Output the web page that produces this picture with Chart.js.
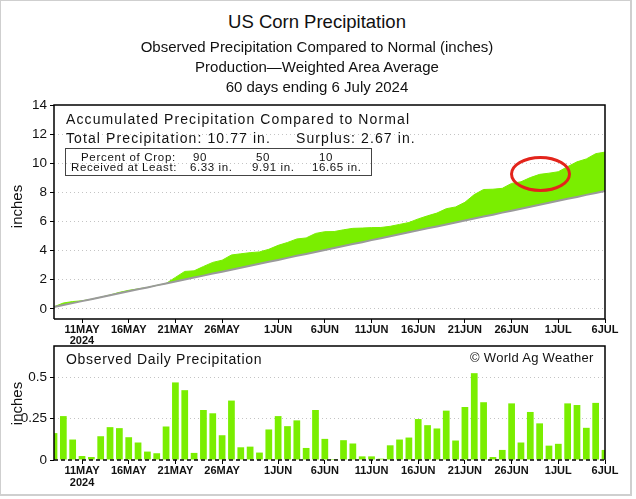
<!DOCTYPE html>
<html>
<head>
<meta charset="utf-8">
<script src="https://cdn.jsdelivr.net/npm/chart.js"></script>
<style>
  html, body { margin: 0; padding: 0; background: #fff; }
  #page {
    position: relative; width: 632px; height: 496px;
    border: 2px solid #cfcfcf; box-sizing: border-box; border-left-width: 1px; border-top-width: 1px;
    font-family: 'Liberation Sans', Arial, sans-serif; color: #111; overflow: hidden;
  }
  .t { position: absolute; white-space: pre; line-height: 1; z-index: 3; }
  .ctr { left: 0; width: 632px; text-align: center; }
  canvas { position: absolute; left: 0; }
  #ell {
    position: absolute; left: 509px; top: 155px; width: 61px; height: 36px;
    border: 3px solid #e3241b; border-radius: 50%; box-sizing: border-box; z-index: 3;
  }
  .ylab { position: absolute; font-size: 15px; transform: rotate(-90deg); transform-origin: center; z-index: 3; }
</style>
</head>
<body>
<div id="page">
  <div class="t ctr" style="top:12px;font-size:18.5px;">US Corn Precipitation</div>
  <div class="t ctr" style="top:38px;font-size:15px;">Observed Precipitation Compared to Normal (inches)</div>
  <div class="t ctr" style="top:58px;font-size:15px;">Production&#8212;Weighted Area Average</div>
  <div class="t ctr" style="top:78px;font-size:15px;">60 days ending 6 July 2024</div>

  <canvas id="dailyChart" width="632" height="156" style="top:334px;"></canvas>
  <canvas id="accChart" width="632" height="259" style="top:93px;z-index:2;"></canvas>

  <div class="ylab" style="left:-10px;top:197px;width:50px;text-align:center;">inches</div>
  <div class="ylab" style="left:-10px;top:394px;width:50px;text-align:center;">inches</div>

  <div class="t" style="left:65px;top:111px;font-size:14px;letter-spacing:1.1px;">Accumulated Precipitation Compared to Normal</div>
  <div class="t" style="left:65px;top:130px;font-size:14px;letter-spacing:1.1px;">Total Precipitation: 10.77 in.     Surplus: 2.67 in.</div>
  <div style="position:absolute;left:64px;top:147px;width:307px;height:28px;border:1.5px solid #444;box-sizing:border-box;z-index:3;"></div>
  <div class="t" style="left:80px;top:151px;font-size:11.5px;letter-spacing:0.7px;">Percent of Crop:</div>
  <div class="t" style="left:192px;top:151px;font-size:11.5px;letter-spacing:0.7px;">90</div>
  <div class="t" style="left:255px;top:151px;font-size:11.5px;letter-spacing:0.7px;">50</div>
  <div class="t" style="left:318px;top:151px;font-size:11.5px;letter-spacing:0.7px;">10</div>
  <div class="t" style="left:70px;top:161px;font-size:11.5px;letter-spacing:0.6px;">Received at Least:</div>
  <div class="t" style="left:189px;top:161px;font-size:11.5px;letter-spacing:0.6px;">6.33 in.</div>
  <div class="t" style="left:251px;top:161px;font-size:11.5px;letter-spacing:0.6px;">9.91 in.</div>
  <div class="t" style="left:311px;top:161px;font-size:11.5px;letter-spacing:0.6px;">16.65 in.</div>

  <!-- year under the first date tick of the top chart -->
  <div class="t" style="left:66px;top:334px;width:30px;text-align:center;font-size:11px;font-weight:bold;">2024</div>

  <div class="t" style="left:65px;top:351px;font-size:14px;letter-spacing:0.7px;">Observed Daily Precipitation</div>
  <div class="t" style="left:469px;top:350px;font-size:13px;letter-spacing:0.3px;">&#169; World Ag Weather</div>

  <div id="ell"></div>
</div>

<script>
// ---------------- data ----------------
// 60 days, 8 May 2024 .. 6 Jul 2024
var monthSpans = [['MAY', 8, 31], ['JUN', 1, 30], ['JUL', 1, 6]];
var days = [];
monthSpans.forEach(function (m) {
    for (var d = m[1]; d <= m[2]; d++) days.push(d + m[0]);
});

var tickDays = ['11MAY', '16MAY', '21MAY', '26MAY', '1JUN', '6JUN', '11JUN',
                '16JUN', '21JUN', '26JUN', '1JUL', '6JUL'];

// accumulated observed precipitation (inches)
var accumObserved = [
    0.14, 0.40, 0.50, 0.55, 0.66, 0.80, 0.95, 1.13, 1.27, 1.37,
    1.47, 1.61, 1.74, 2.16, 2.57, 2.61, 2.91, 3.19, 3.34, 3.70,
    3.78, 3.86, 3.91, 4.09, 4.36, 4.56, 4.80, 4.87, 5.18, 5.30,
    5.31, 5.43, 5.53, 5.55, 5.58, 5.59, 5.67, 5.80, 5.93, 6.18,
    6.39, 6.58, 6.88, 7.00, 7.32, 7.85, 8.20, 8.22, 8.28, 8.62,
    8.73, 9.02, 9.24, 9.32, 9.42, 9.77, 10.10, 10.30, 10.66, 10.77
];

// accumulated normal precipitation (inches)
var accumNormal = [
    0.12, 0.26, 0.39, 0.53, 0.66, 0.80, 0.93, 1.07, 1.20, 1.34,
    1.47, 1.61, 1.74, 1.88, 2.01, 2.15, 2.28, 2.42, 2.55, 2.69,
    2.82, 2.96, 3.09, 3.23, 3.36, 3.50, 3.64, 3.77, 3.91, 4.04,
    4.18, 4.31, 4.45, 4.58, 4.72, 4.85, 4.99, 5.12, 5.26, 5.39,
    5.53, 5.66, 5.80, 5.93, 6.07, 6.20, 6.34, 6.47, 6.61, 6.74,
    6.88, 7.02, 7.15, 7.29, 7.42, 7.56, 7.69, 7.83, 7.96, 8.10
];

// observed daily precipitation (inches)
var dailyObserved = [
    0.163, 0.266, 0.124, 0.024, 0.018, 0.144, 0.199, 0.193, 0.138, 0.106,
    0.051, 0.041, 0.203, 0.470, 0.423, 0.043, 0.303, 0.283, 0.150, 0.360,
    0.077, 0.081, 0.045, 0.185, 0.266, 0.205, 0.240, 0.073, 0.303, 0.128,
    0.006, 0.120, 0.100, 0.022, 0.022, 0.008, 0.089, 0.124, 0.136, 0.248,
    0.211, 0.191, 0.299, 0.118, 0.321, 0.526, 0.350, 0.018, 0.061, 0.343,
    0.106, 0.291, 0.222, 0.087, 0.098, 0.343, 0.333, 0.195, 0.346, 0.061
];

var accTicks = [0, 2, 4, 6, 8, 10, 12, 14];
var dailyTicks = [0, 0.25, 0.5];

// ---------------- styles ----------------
var GREEN = '#7AEE00';
var FONT = 'Liberation Sans';

function isTickDay(i) { return tickDays.indexOf(days[i]) >= 0; }

// draws black frame round the plot area
var framePlugin = {
    id: 'frame',
    afterDraw: function (chart, args, opts) {
        var a = chart.chartArea, c = chart.ctx;
        c.save();
        c.strokeStyle = '#000';
        c.lineWidth = 1.5;
        c.beginPath();
        c.moveTo(a.left, a.bottom);
        c.lineTo(a.left, a.top);
        c.lineTo(a.right, a.top);
        c.lineTo(a.right, a.bottom);
        if (!opts.dashedBottom) c.lineTo(a.left, a.bottom);
        c.stroke();
        if (opts.dashedBottom) {
            c.setLineDash([4, 3]);
            c.beginPath();
            c.moveTo(a.left, a.bottom);
            c.lineTo(a.right, a.bottom);
            c.stroke();
        }
        c.restore();
    }
};

function xScale(axisHeight, withYear) {
    return {
        type: 'category',
        offset: false,
        grid: {
            offset: false,
            drawOnChartArea: false,
            tickLength: 4,
            tickColor: function (ctx) { return isTickDay(ctx.index) ? '#000' : 'rgba(0,0,0,0)'; }
        },
        border: { display: false },
        ticks: {
            autoSkip: false,
            maxRotation: 0,
            padding: 1,
            color: '#111',
            font: { family: FONT, size: 11, weight: 'bold', lineHeight: 1.1 },
            callback: function (v, i) {
                var d = days[i];
                if (!isTickDay(i)) return '';
                if (withYear && d === '11MAY') return ['11MAY', '2024'];
                return d;
            }
        },
        afterFit: function (s) { s.height = axisHeight; }
    };
}

// ---------------- top chart ----------------
new Chart(document.getElementById('accChart'), {
    type: 'line',
    data: {
        labels: days,
        datasets: [{
            label: 'Normal',
            data: accumNormal,
            borderColor: '#9a9a9a',
            borderWidth: 2,
            pointRadius: 0,
            tension: 0,
            fill: false
        }, {
            label: 'Observed',
            data: accumObserved,
            borderColor: GREEN,
            borderWidth: 1,
            pointRadius: 0,
            tension: 0,
            fill: { target: 0, above: GREEN, below: GREEN }
        }]
    },
    options: {
        responsive: false,
        animation: false,
        layout: { padding: { top: 5, right: 28, left: 0, bottom: 0 } },
        plugins: {
            legend: { display: false },
            tooltip: { enabled: false },
            frame: { dashedBottom: false }
        },
        scales: {
            x: xScale(34, false),
            y: {
                min: -0.7,
                max: 14,
                afterBuildTicks: function (s) {
                    s.ticks = accTicks.map(function (v) { return { value: v }; });
                },
                afterFit: function (s) { s.width = 53; },
                grid: {
                    color: function (ctx) { return ctx.tick && ctx.tick.value === 14 ? 'rgba(0,0,0,0)' : '#c4c4c4'; },
                    lineWidth: 1,
                    tickLength: 4,
                    tickColor: '#000'
                },
                border: { display: false, dash: [1, 3] },
                ticks: {
                    color: '#111',
                    padding: 3,
                    font: { family: FONT, size: 13.5 },
                    callback: function (v) { return String(v); }
                }
            }
        }
    },
    plugins: [framePlugin]
});

// ---------------- bottom chart ----------------
new Chart(document.getElementById('dailyChart'), {
    type: 'bar',
    data: {
        labels: days,
        datasets: [{
            label: 'Daily',
            data: dailyObserved,
            backgroundColor: GREEN,
            borderWidth: 0,
            barPercentage: 0.72,
            categoryPercentage: 1
        }]
    },
    options: {
        responsive: false,
        animation: false,
        layout: { padding: { top: 4, right: 28, left: 0, bottom: 0 } },
        plugins: {
            legend: { display: false },
            tooltip: { enabled: false },
            frame: { dashedBottom: true }
        },
        scales: {
            x: xScale(31, true),
            y: {
                min: 0,
                max: 0.69,
                afterBuildTicks: function (s) {
                    s.ticks = dailyTicks.map(function (v) { return { value: v }; });
                },
                afterFit: function (s) { s.width = 53; },
                grid: {
                    color: function (ctx) { return ctx.tick && ctx.tick.value === 0 ? 'rgba(0,0,0,0)' : '#c4c4c4'; },
                    lineWidth: 1,
                    tickLength: 4,
                    tickColor: '#000'
                },
                border: { display: false, dash: [1, 3] },
                ticks: {
                    color: '#111',
                    padding: 3,
                    font: { family: FONT, size: 13.5 },
                    callback: function (v) { return String(v); }
                }
            }
        }
    },
    plugins: [framePlugin]
});
</script>
</body>
</html>
